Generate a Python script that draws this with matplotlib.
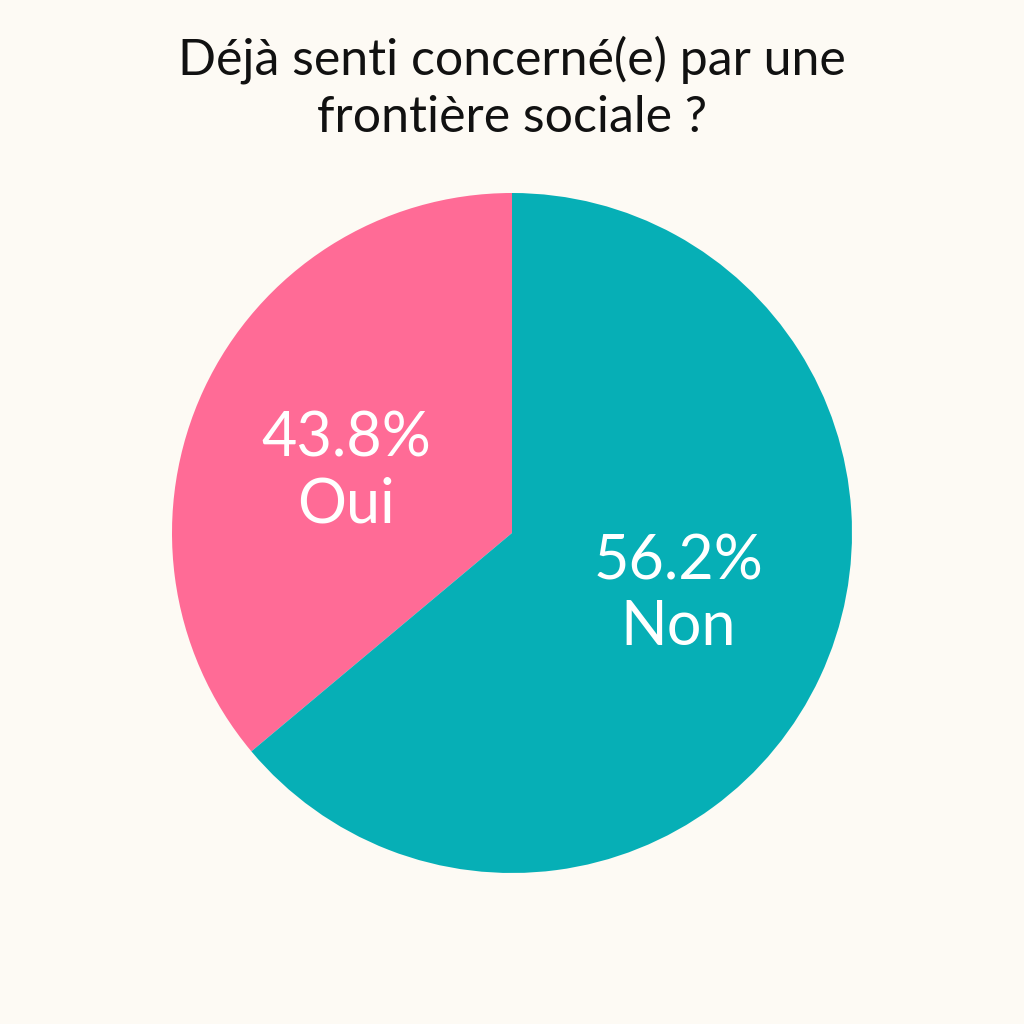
import numpy as np
import matplotlib
matplotlib.use("Agg")
import matplotlib.pyplot as plt

categories = ["Oui", "Non"]
# wedge sizes as drawn in the picture
wedge_values = [36.1, 63.9]
# percentages as printed on the picture
pct_labels = ["43.8%", "56.2%"]
colors = ["#FF6B96", "#06AFB6"]
title = "Déjà senti concerné(e) par une\nfrontière sociale ?"

bg = "#FDFAF4"
plt.rcParams['font.family'] = ['Lato', 'DejaVu Sans']

fig = plt.figure(figsize=(10.24, 10.24), dpi=100, facecolor=bg)
ax = fig.add_axes([0, 0, 1, 1])
ax.set_facecolor(bg)

R = 340
cx, cy = 512, 1024 - 533
wedges, _ = ax.pie(wedge_values, colors=colors, startangle=90, counterclock=True,
                   center=(cx, cy), radius=R, wedgeprops=dict(linewidth=0))
ax.set_xlim(0, 1024)
ax.set_ylim(0, 1024)
ax.set_aspect('equal')
ax.axis('off')

# label anchors relative to pie centre, in units of radius (layout only)
label_offsets = [(-0.488, 0.18), (0.49, -0.182)]
for (ox, oy), cat, pct in zip(label_offsets, categories, pct_labels):
    ax.text(cx + ox * R, cy + oy * R, f"{pct}\n{cat}", ha='center', va='center',
            color='white', fontsize=44, linespacing=1.2)

fig.text(0.5, 1 - 88 / 1024, title, ha='center', va='center', fontsize=36,
         color='#111111', linespacing=1.3)

fig.savefig("out.png", dpi=100, facecolor=bg)
